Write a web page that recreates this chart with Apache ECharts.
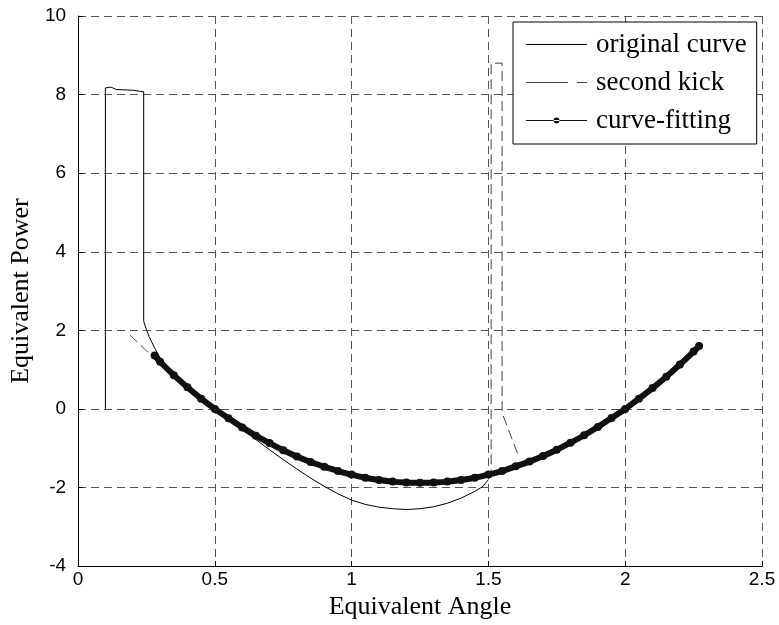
<!DOCTYPE html>
<html>
<head>
<meta charset="utf-8">
<script src="https://cdn.jsdelivr.net/npm/echarts@6/dist/echarts.min.js"></script>
<style>
html,body{margin:0;padding:0;background:#fff;}
#chart{width:779px;height:625px;}
</style>
</head>
<body>
<div id="chart"></div>
<script>
// ---- data ----
const xTicks = [0, 0.5, 1, 1.5, 2, 2.5];
const yTicks = [-4, -2, 0, 2, 4, 6, 8, 10];

const originalX = [0.10, 0.10, 0.12, 0.14, 0.20, 0.24, 0.24, 0.25, 0.26, 0.28, 0.30, 0.35, 0.40, 0.45, 0.50, 0.55, 0.60, 0.65, 0.70, 0.75, 0.80, 0.85, 0.90, 0.95, 1.00, 1.05, 1.10, 1.15, 1.20, 1.25, 1.30, 1.35, 1.40, 1.45, 1.48, 1.50];
const originalY = [0.00, 8.17, 8.19, 8.13, 8.11, 8.07, 2.23, 2.02, 1.84, 1.55, 1.30, 0.88, 0.55, 0.26, -0.02, -0.27, -0.52, -0.78, -1.04, -1.29, -1.53, -1.76, -1.97, -2.16, -2.32, -2.43, -2.50, -2.54, -2.56, -2.54, -2.49, -2.40, -2.27, -2.10, -1.97, -1.80];

const kickX = [0.19, 0.22, 0.25, 0.28, 0.32, 0.36, 0.40, 0.45, 0.50, 0.60, 0.70, 0.80, 0.90, 1.00, 1.10, 1.20, 1.30, 1.40, 1.50, 1.51, 1.51, 1.55, 1.55, 1.61];
const kickY = [1.88, 1.68, 1.48, 1.30, 1.02, 0.76, 0.50, 0.20, -0.05, -0.52, -0.92, -1.26, -1.52, -1.71, -1.84, -1.90, -1.90, -1.84, -1.74, -1.74, 8.80, 8.80, -0.10, -1.20];

const fitX = [0.28, 0.30, 0.35, 0.40, 0.45, 0.50, 0.55, 0.60, 0.65, 0.70, 0.75, 0.80, 0.85, 0.90, 0.95, 1.00, 1.05, 1.10, 1.15, 1.20, 1.25, 1.30, 1.35, 1.40, 1.45, 1.50, 1.55, 1.60, 1.65, 1.70, 1.75, 1.80, 1.85, 1.90, 1.95, 2.00, 2.05, 2.10, 2.15, 2.20, 2.25, 2.27];
const fitY = [1.36, 1.20, 0.86, 0.55, 0.26, 0.00, -0.24, -0.47, -0.68, -0.87, -1.05, -1.21, -1.35, -1.47, -1.58, -1.67, -1.75, -1.81, -1.85, -1.87, -1.88, -1.87, -1.85, -1.81, -1.75, -1.67, -1.58, -1.46, -1.34, -1.20, -1.04, -0.86, -0.67, -0.46, -0.23, 0.00, 0.26, 0.53, 0.82, 1.13, 1.46, 1.60];

const seriesNames = ['original curve', 'second kick', 'curve-fitting'];

function pairs(xs, ys) { return xs.map((x, i) => [x, ys[i]]); }

const chart = echarts.init(document.getElementById('chart'), null, {renderer: 'canvas'});

const gridLine = {show: true, lineStyle: {color: '#555', width: 1, type: [8, 5]}};
const serif = '"Liberation Serif", "Times New Roman", serif';
const sans = '"Liberation Sans", Arial, sans-serif';

chart.setOption({
  animation: false,
  backgroundColor: '#fff',
  grid: {left: 75, right: 17, top: 16, bottom: 57, containLabel: false},
  xAxis: {
    type: 'value', min: xTicks[0], max: xTicks[xTicks.length - 1], interval: 0.5,
    name: 'Equivalent Angle', nameLocation: 'middle', nameGap: 26,
    nameTextStyle: {fontFamily: serif, fontSize: 26, color: '#000'},
    axisLine: {show: true, onZero: false, lineStyle: {color: '#000', width: 1}},
    axisTick: {show: true, inside: true, length: 5, lineStyle: {color: '#000'}},
    axisLabel: {margin: 4, fontFamily: sans, fontSize: 19, color: '#000',
      formatter: v => String(v)},
    splitLine: gridLine
  },
  yAxis: {
    type: 'value', min: yTicks[0], max: yTicks[yTicks.length - 1], interval: 2,
    name: 'Equivalent Power', nameLocation: 'middle', nameGap: 38,
    nameTextStyle: {fontFamily: serif, fontSize: 26, color: '#000'},
    axisLine: {show: true, onZero: false, lineStyle: {color: '#000', width: 1}},
    axisTick: {show: true, inside: true, length: 5, lineStyle: {color: '#000'}},
    axisLabel: {margin: 12, fontFamily: sans, fontSize: 19, color: '#000'},
    splitLine: gridLine
  },
  legend: {
    orient: 'vertical', left: 513, top: 22,
    backgroundColor: '#fff', borderColor: '#000', borderWidth: 1, borderRadius: 0,
    padding: [9, 10, 10, 13], itemGap: 11, itemWidth: 61, itemHeight: 12,
    symbolKeepAspect: true,
    textStyle: {fontFamily: serif, fontSize: 27, color: '#000', lineHeight: 26, padding: [0, 0, 0, 4]},
    data: [
      {name: seriesNames[0], icon: 'path://M0,0H61V1.2H0Z'},
      {name: seriesNames[1], icon: 'path://M0,0H42V1.2H0Z M51,0H61V1.2H51Z'},
      {name: seriesNames[2], icon: 'path://M0,2.4H61V3.6H0Z M27.5,3A3,3 0 1,0 33.5,3A3,3 0 1,0 27.5,3Z'}
    ]
  },
  series: [
    {
      name: seriesNames[0], type: 'line', data: pairs(originalX, originalY),
      symbol: 'none', color: '#000',
      lineStyle: {color: '#000', width: 1}, z: 2
    },
    {
      name: seriesNames[1], type: 'line', data: pairs(kickX, kickY),
      symbol: 'none', color: '#444',
      lineStyle: {color: '#444', width: 1, type: [10, 5]}, z: 3
    },
    {
      name: seriesNames[2], type: 'line', data: pairs(fitX, fitY),
      symbol: 'circle', symbolSize: 8, showSymbol: true, smooth: 0.3, color: '#111',
      itemStyle: {color: '#111'},
      lineStyle: {color: '#111', width: 6}, z: 4
    }
  ]
});
</script>
</body>
</html>
